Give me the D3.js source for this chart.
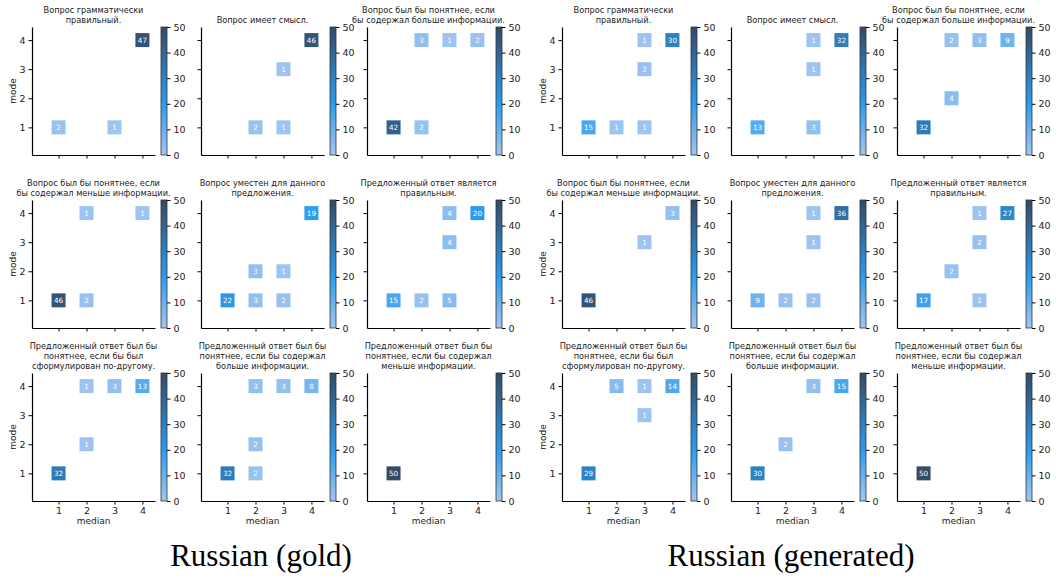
<!DOCTYPE html>
<html>
<head>
<meta charset="utf-8">
<script src="https://cdn.jsdelivr.net/npm/d3@7"></script>
<style>
  body { margin: 0; background: #fff; }
  svg { display: block; }
  text { font-family: "DejaVu Sans", sans-serif; }
</style>
</head>
<body>
<svg id="chart" width="1058" height="579"></svg>
<script>
// titles of the 9 panels (line breaks as in the figure)
var panelTitles = [
  ["Вопрос грамматически", "правильный."],
  ["Вопрос имеет смысл."],
  ["Вопрос был бы понятнее, если", "бы содержал больше информации."],
  ["Вопрос был бы понятнее, если", "бы содержал меньше информации."],
  ["Вопрос уместен для данного", "предложения."],
  ["Предложенный ответ является", "правильным."],
  ["Предложенный ответ был бы", "понятнее, если бы был", "сформулирован по-другому."],
  ["Предложенный ответ был бы", "понятнее, если бы содержал", "больше информации."],
  ["Предложенный ответ был бы", "понятнее, если бы содержал", "меньше информации."]
];

var groupLabels = ["Russian (gold)", "Russian (generated)"];
var tickValues = [1, 2, 3, 4];
var colorTicks = [0, 10, 20, 30, 40, 50];

// [median, mode, count] per panel
var goldCells = [
  [[4, 4, 47], [1, 1, 2], [3, 1, 1]],
  [[4, 4, 46], [3, 3, 1], [2, 1, 2], [3, 1, 1]],
  [[2, 4, 3], [3, 4, 1], [4, 4, 2], [1, 1, 42], [2, 1, 2]],
  [[2, 4, 1], [4, 4, 1], [1, 1, 46], [2, 1, 2]],
  [[4, 4, 19], [2, 2, 3], [3, 2, 1], [1, 1, 22], [2, 1, 3], [3, 1, 2]],
  [[3, 4, 4], [4, 4, 20], [3, 3, 4], [1, 1, 15], [2, 1, 2], [3, 1, 5]],
  [[2, 4, 1], [3, 4, 3], [4, 4, 13], [2, 2, 1], [1, 1, 32]],
  [[2, 4, 3], [3, 4, 3], [4, 4, 8], [2, 2, 2], [1, 1, 32], [2, 1, 2]],
  [[1, 1, 50]]
];

var generatedCells = [
  [[3, 4, 1], [4, 4, 30], [3, 3, 2], [1, 1, 15], [2, 1, 1], [3, 1, 1]],
  [[3, 4, 1], [4, 4, 32], [3, 3, 1], [1, 1, 13], [3, 1, 3]],
  [[2, 4, 2], [3, 4, 3], [4, 4, 9], [2, 2, 4], [1, 1, 32]],
  [[4, 4, 3], [3, 3, 1], [1, 1, 46]],
  [[3, 4, 1], [4, 4, 36], [3, 3, 1], [1, 1, 9], [2, 1, 2], [3, 1, 2]],
  [[3, 4, 1], [4, 4, 27], [3, 3, 2], [2, 2, 2], [1, 1, 17], [3, 1, 1]],
  [[2, 4, 5], [3, 4, 1], [4, 4, 14], [3, 3, 1], [1, 1, 29]],
  [[3, 4, 3], [4, 4, 15], [2, 2, 2], [1, 1, 30]],
  [[1, 1, 50]]
];

var svg = d3.select("#chart");

// colour scale: light blue -> bright blue -> dark slate
var color = d3.scaleLinear()
  .domain([0, 20, 50])
  .range(["#a3c6f0", "#2a9cf0", "#344a66"])
  .interpolate(d3.interpolateRgb);

var colLeft = [32, 201, 367];   // axes left edge per column
var rowTop = [27, 200, 373];    // axes top edge per row
var axW = 123, axH = 128;
var groupOffset = [0, 530];

// one gradient for all colourbars
var grad = svg.append("defs").append("linearGradient")
  .attr("id", "cbar").attr("x1", 0).attr("y1", 1).attr("x2", 0).attr("y2", 0);
d3.range(0, 51, 5).forEach(function(v) {
  grad.append("stop").attr("offset", v / 50).attr("stop-color", color(v));
});

function drawPanel(g, cells, title, col, row) {
  var x0 = colLeft[col], y0 = rowTop[row];
  var x = d3.scaleLinear().domain([0.05, 4.45]).range([x0, x0 + axW]);
  var y = d3.scaleLinear().domain([0.05, 4.45]).range([y0 + axH, y0]);

  // title lines, last line sits just above the axes
  var n = title.length;
  title.forEach(function(line, i) {
    g.append("text")
      .attr("x", x0 + axW / 2)
      .attr("y", y0 - 4 - (n - 1 - i) * 10)
      .attr("text-anchor", "middle")
      .style("font-size", "8.2px")
      .attr("fill", "#222")
      .text(line);
  });

  // cells
  var cg = g.append("g");
  cells.forEach(function(c) {
    cg.append("rect")
      .attr("x", x(c[0]) - 7)
      .attr("y", y(c[1]) - 7)
      .attr("width", 14)
      .attr("height", 14)
      .attr("fill", color(c[2]));
    cg.append("text")
      .attr("x", x(c[0]))
      .attr("y", y(c[1]) + 2.5)
      .attr("text-anchor", "middle")
      .style("font-size", "7.2px")
      .attr("fill", "#fff")
      .text(c[2]);
  });

  // axes (left + bottom spines only)
  var xAxis = d3.axisBottom(x).tickValues(tickValues).tickSize(3.5).tickSizeOuter(0)
    .tickFormat(d3.format("d"));
  var yAxis = d3.axisLeft(y).tickValues(tickValues).tickSize(3.5).tickSizeOuter(0)
    .tickFormat(d3.format("d"));
  if (row < 2) xAxis.tickFormat("");
  if (col > 0) yAxis.tickFormat("");

  var gx = g.append("g").attr("transform", "translate(0," + (y0 + axH) + ")").call(xAxis);
  var gy = g.append("g").attr("transform", "translate(" + x0 + ",0)").call(yAxis);
  [gx, gy].forEach(function(a) {
    a.select(".domain").attr("stroke", "#000").attr("stroke-width", 1.2);
    a.selectAll(".tick line").attr("stroke", "#000");
    a.selectAll(".tick text").style("font-size", "9.5px").attr("fill", "#222")
      .style("font-family", "DejaVu Sans, sans-serif");
  });

  if (col === 0) {
    g.append("text")
      .attr("transform", "translate(" + (x0 - 16) + "," + (y0 + axH / 2) + ") rotate(-90)")
      .attr("text-anchor", "middle")
      .style("font-size", "9px")
      .attr("fill", "#222")
      .text("mode");
  }
  if (row === 2) {
    g.append("text")
      .attr("x", x0 + axW / 2)
      .attr("y", y0 + axH + 23)
      .attr("text-anchor", "middle")
      .style("font-size", "9px")
      .attr("fill", "#222")
      .text("median");
  }

  // colourbar
  var cbX = x0 + 129, cbW = 6;
  var cy = d3.scaleLinear().domain([0, 50]).range([y0 + axH, y0]);
  g.append("rect")
    .attr("x", cbX).attr("y", y0)
    .attr("width", cbW).attr("height", axH)
    .attr("fill", "url(#cbar)")
    .attr("stroke", "#333").attr("stroke-width", 0.8);
  var gc = g.append("g").attr("transform", "translate(" + (cbX + cbW) + ",0)")
    .call(d3.axisRight(cy).tickValues(colorTicks).tickSize(3.5).tickSizeOuter(0));
  gc.select(".domain").remove();
  gc.selectAll(".tick line").attr("stroke", "#000");
  gc.selectAll(".tick text").style("font-size", "9.5px").attr("fill", "#222")
    .style("font-family", "DejaVu Sans, sans-serif");
}

[goldCells, generatedCells].forEach(function(data, gi) {
  var g = svg.append("g").attr("transform", "translate(" + groupOffset[gi] + ",0)");
  data.forEach(function(cells, i) {
    drawPanel(g, cells, panelTitles[i], i % 3, Math.floor(i / 3));
  });
  g.append("text")
    .attr("x", 261)
    .attr("y", 566)
    .attr("text-anchor", "middle")
    .style("font-family", "Liberation Serif, Times New Roman, serif")
    .style("font-size", "31px")
    .attr("fill", "#000")
    .text(groupLabels[gi]);
});
</script>
</body>
</html>
